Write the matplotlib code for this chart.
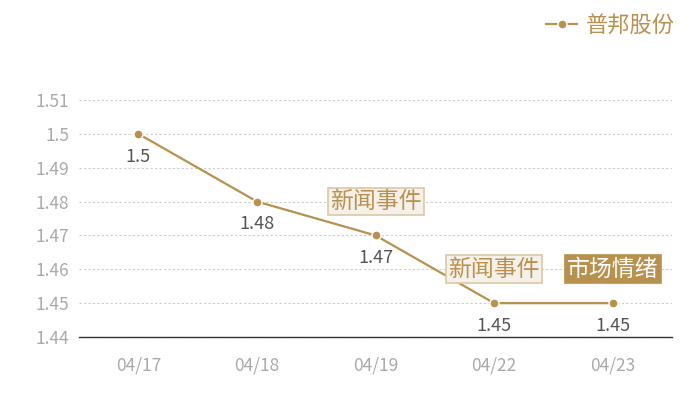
import matplotlib
matplotlib.use("Agg")
import matplotlib.pyplot as plt

plt.rcParams['font.family'] = ['Noto Sans CJK SC', 'DejaVu Sans']

# data
dates = ['04/17', '04/18', '04/19', '04/22', '04/23']
prices = [1.50, 1.48, 1.47, 1.45, 1.45]
series_name = '普邦股份'
yticks = [1.44, 1.45, 1.46, 1.47, 1.48, 1.49, 1.50, 1.51]
ytick_labels = ['1.44', '1.45', '1.46', '1.47', '1.48', '1.49', '1.5', '1.51']
events = [('04/19', '新闻事件', 'news'), ('04/22', '新闻事件', 'news'), ('04/23', '市场情绪', 'mood')]

gold = '#b8914f'

fig = plt.figure(figsize=(7, 4), dpi=100)
ax = fig.add_axes([0.113, 0.1575, 0.847, 0.5925])

x = list(range(len(dates)))
line, = ax.plot(x, prices, color=gold, lw=1.6, marker='o', ms=6.5,
                markerfacecolor=gold, markeredgecolor='white', markeredgewidth=1)

# value labels under each point
for xi, v in zip(x, prices):
    ax.annotate(f'{v:g}', (xi, v), xytext=(0, -16.5), textcoords='offset points',
                ha='center', va='center', fontsize=13, color='#555555')

# event markers
for d, label, kind in events:
    xi = dates.index(d)
    v = prices[xi]
    if kind == 'news':
        box = dict(boxstyle='square,pad=0.1', fc='#f5f0e8', ec='#dcc8a6', lw=1.2)
        tc = gold
    else:
        box = dict(boxstyle='square,pad=0.1', fc=gold, ec=gold, lw=1.2)
        tc = 'white'
    ax.annotate(label, (xi, v), xytext=(0, 24.5), textcoords='offset points',
                ha='center', va='center', fontsize=16.5, color=tc, bbox=box)

ax.set_xlim(-0.5, len(dates) - 0.5)
ax.set_ylim(1.44, 1.51)
ax.set_xticks(x)
ax.set_xticklabels(dates)
ax.set_yticks(yticks)
ax.set_yticklabels(ytick_labels)
ax.tick_params(axis='both', length=0, labelsize=12.5, colors='#aaaaaa')
ax.tick_params(axis='x', pad=14)
ax.tick_params(axis='y', pad=7)

ax.grid(axis='y', color='#cccccc', ls=(0, (2, 2)), lw=0.8)
ax.set_axisbelow(True)
for s in ['top', 'right', 'left']:
    ax.spines[s].set_visible(False)
ax.spines['bottom'].set_color('#333333')
ax.spines['bottom'].set_linewidth(1)

leg = fig.legend([line], [series_name], loc='upper right', bbox_to_anchor=(0.993, 1.015),
                 frameon=False, fontsize=16, handlelength=1.4, handletextpad=0.4)
for t in leg.get_texts():
    t.set_color(gold)

fig.savefig('out.png', dpi=100)
